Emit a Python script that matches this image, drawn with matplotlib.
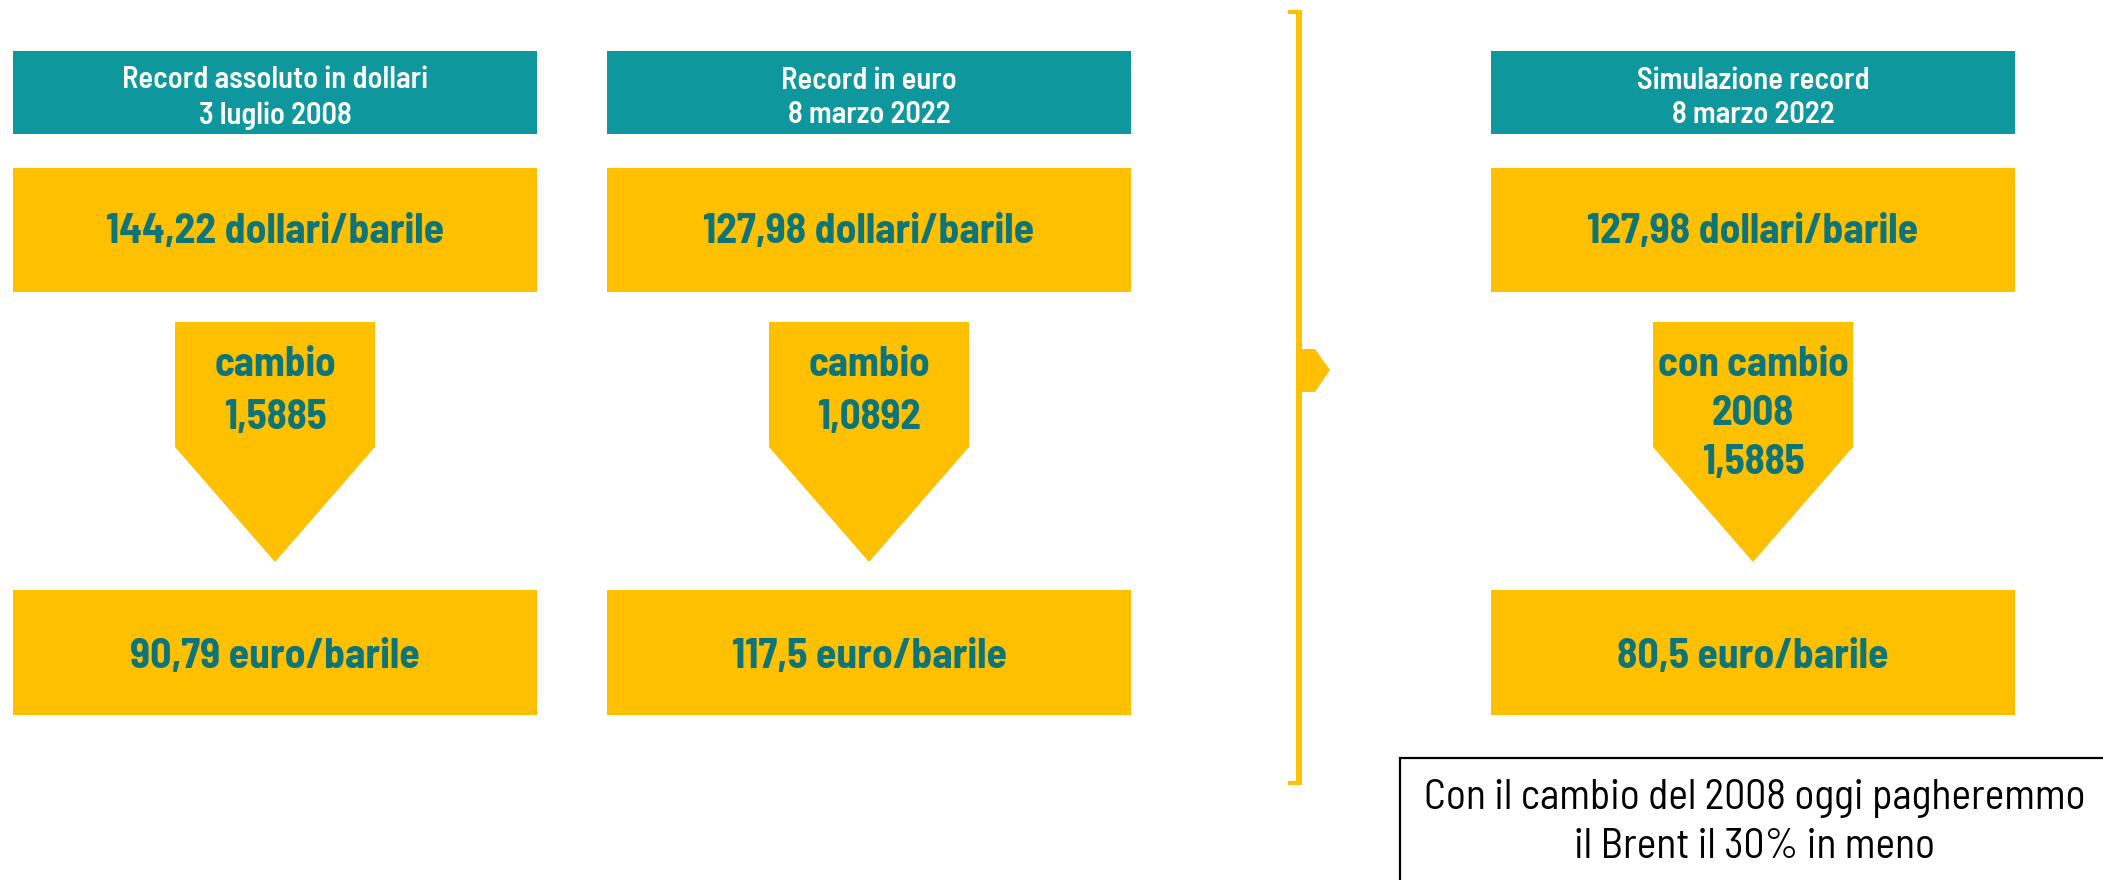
import matplotlib.pyplot as plt
from matplotlib.patches import Rectangle, Polygon

# Data of the three panels
headers = ["Record assoluto in dollari\n3 luglio 2008",
           "Record in euro\n8 marzo 2022",
           "Simulazione record\n8 marzo 2022"]
dollar_values = ["144,22 dollari/barile", "127,98 dollari/barile", "127,98 dollari/barile"]
exchange_labels = [["cambio", "1,5885"], ["cambio", "1,0892"], ["con cambio", "2008", "1,5885"]]
euro_values = ["90,79 euro/barile", "117,5 euro/barile", "80,5 euro/barile"]
note = "Con il cambio del 2008 oggi pagheremmo\nil Brent il 30% in meno"

# Colours
teal = "#0E989E"
yellow = "#FFC000"
dark_teal = "#0D7478"

semi = ["Barlow Semi Condensed", "DejaVu Sans"]

# Layout in pixels
panel_left = [13, 607, 1491]
panel_w = 524
arrow_w = 200

fig = plt.figure(figsize=(21.03, 8.80), dpi=100)
ax = fig.add_axes([0, 0, 1, 1])
ax.set_xlim(0, 2103)
ax.set_ylim(880, 0)
ax.axis("off")

for i in range(3):
    x0 = panel_left[i]
    cx = x0 + panel_w / 2

    # header
    ax.add_patch(Rectangle((x0, 51), panel_w, 83, color=teal, lw=0))
    ax.text(cx, 98, headers[i], ha="center", va="center", color="white",
            fontsize=22, fontweight=600, family=semi, linespacing=1.3)

    # top yellow box (dollars)
    ax.add_patch(Rectangle((x0, 168), panel_w, 124, color=yellow, lw=0))
    ax.text(cx, 232, dollar_values[i], ha="center", va="center", color=dark_teal,
            fontsize=30, fontweight="bold", family=semi)

    # arrow down
    ax.add_patch(Polygon([(cx - arrow_w / 2, 322), (cx + arrow_w / 2, 322),
                          (cx + arrow_w / 2, 447), (cx, 562),
                          (cx - arrow_w / 2, 447)], closed=True,
                         color=yellow, lw=0))
    lines = exchange_labels[i]
    step = 53 if len(lines) == 2 else 49
    for k, line in enumerate(lines):
        ax.text(cx, 365 + k * step, line, ha="center", va="center",
                color=dark_teal, fontsize=29.5, fontweight="bold", family=semi)

    # bottom yellow box (euro)
    ax.add_patch(Rectangle((x0, 590), panel_w, 125, color=yellow, lw=0))
    ax.text(cx, 657, euro_values[i], ha="center", va="center", color=dark_teal,
            fontsize=30, fontweight="bold", family=semi)

# bracket with pointer
ax.add_patch(Rectangle((1296, 10), 6, 775, color=yellow, lw=0))
ax.add_patch(Rectangle((1288, 10), 10, 4, color=yellow, lw=0))
ax.add_patch(Rectangle((1288, 781), 10, 4, color=yellow, lw=0))
ax.add_patch(Polygon([(1300, 349), (1315, 349), (1330, 370), (1315, 392), (1300, 392)],
                     closed=True, color=yellow, lw=0))

# note box
ax.add_patch(Rectangle((1400, 758), 720, 140, facecolor="white", edgecolor="black", lw=1.6))
ax.text(1755, 823, note, ha="center", va="center", color="black",
        fontsize=30, family=semi, linespacing=1.32)

fig.savefig("out.png", dpi=100)
